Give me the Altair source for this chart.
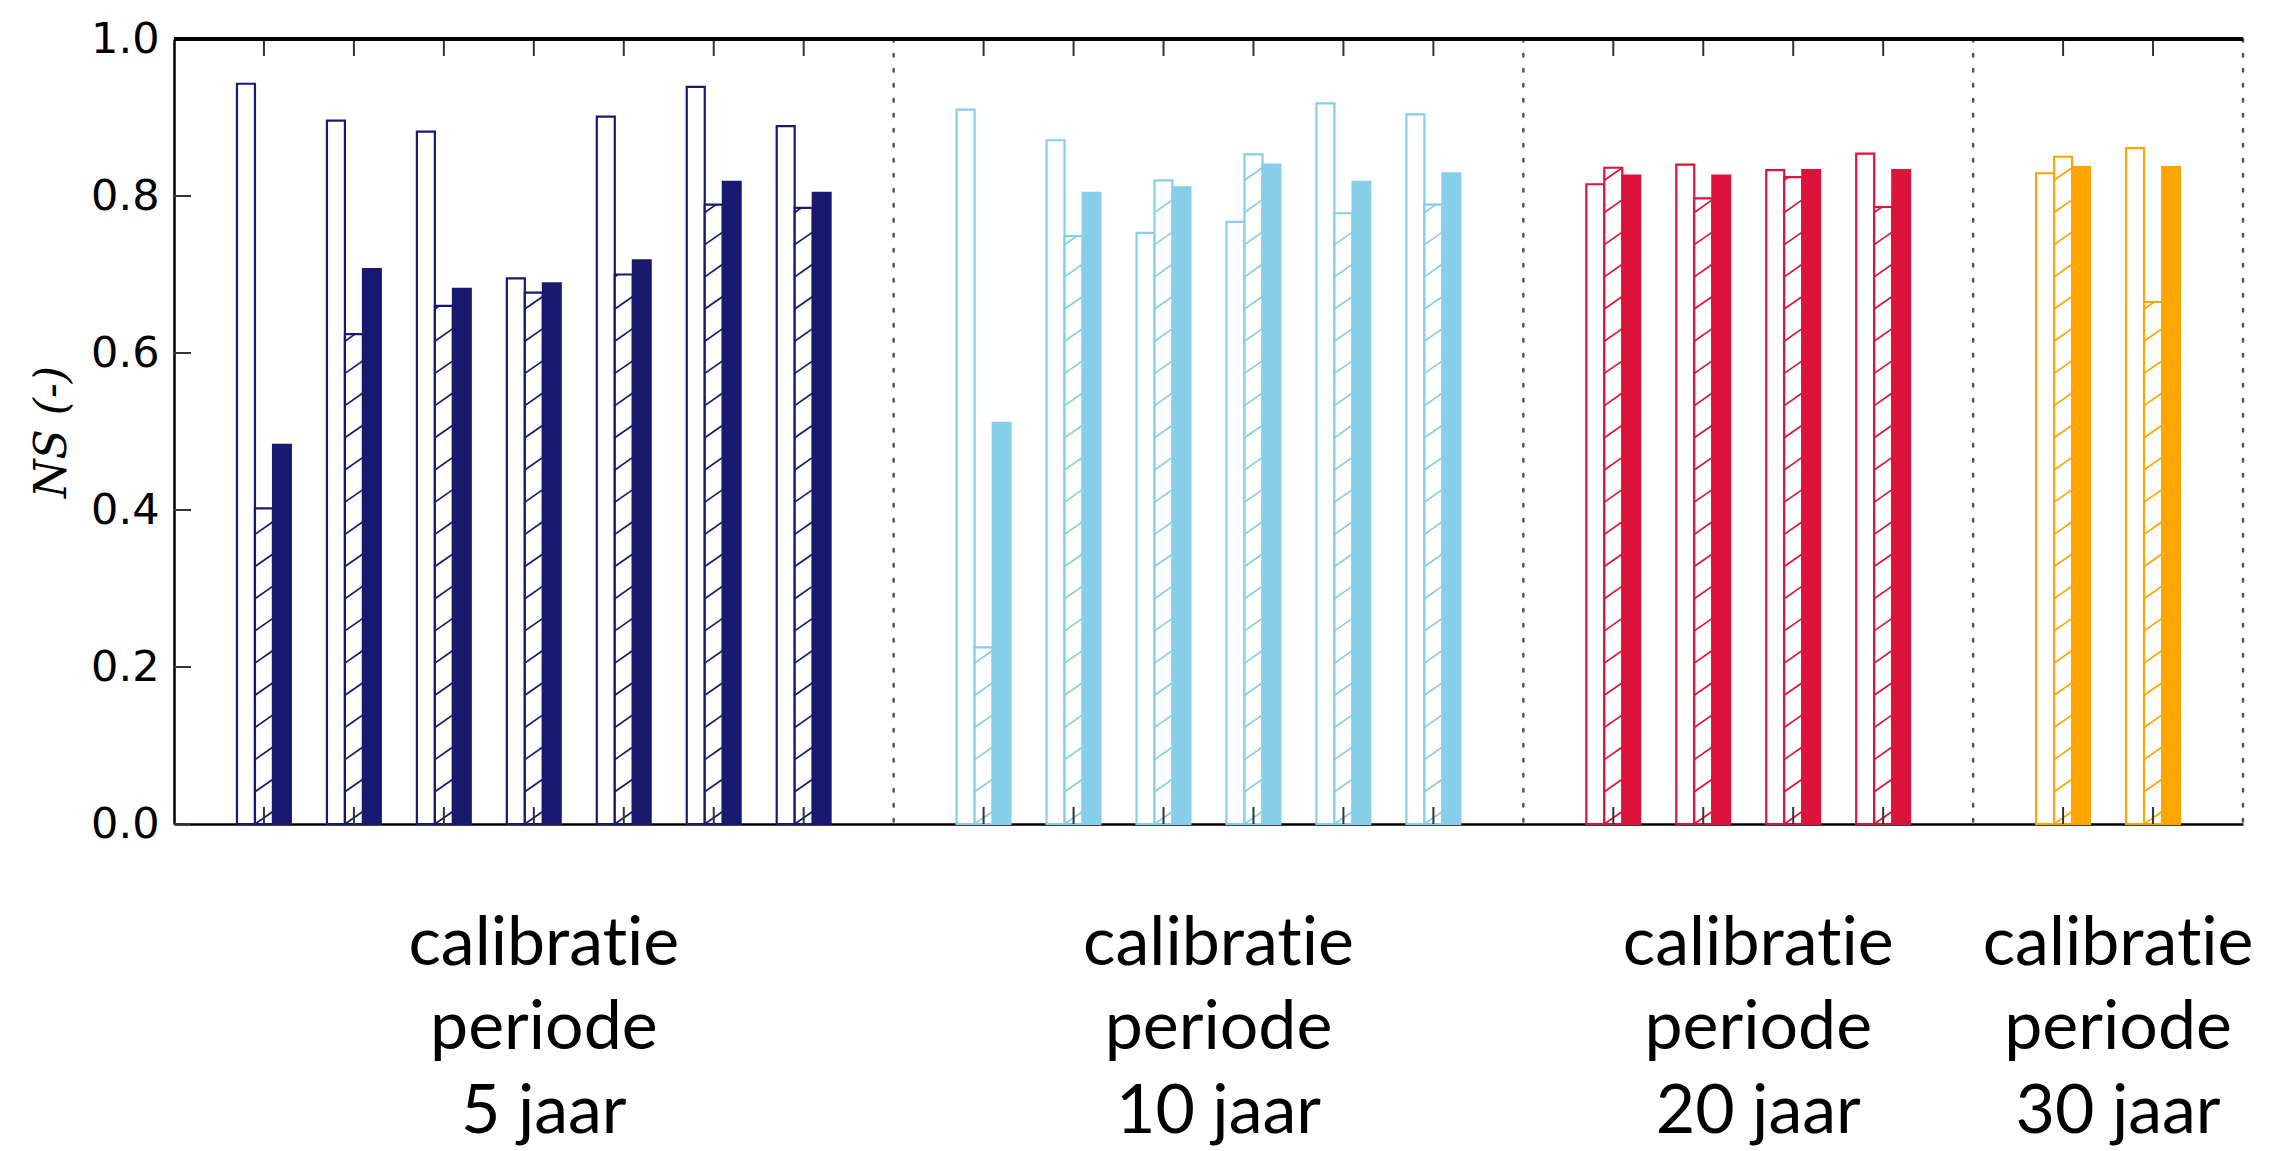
import altair as alt
import pandas as pd

# ---- data ----
groups = ["5 jaar", "10 jaar", "20 jaar", "30 jaar"]
colors = ["#191970", "#87CEEB", "#DC143C", "#FFA500"]

g5_open = [0.943, 0.896, 0.882, 0.695, 0.901, 0.939, 0.889]
g5_hatch = [0.402, 0.624, 0.660, 0.677, 0.700, 0.789, 0.785]
g5_fill = [0.483, 0.707, 0.682, 0.689, 0.718, 0.818, 0.804]

g10_open = [0.910, 0.871, 0.753, 0.767, 0.918, 0.904]
g10_hatch = [0.225, 0.749, 0.820, 0.853, 0.778, 0.789]
g10_fill = [0.511, 0.804, 0.811, 0.840, 0.818, 0.829]

g20_open = [0.815, 0.840, 0.833, 0.854]
g20_hatch = [0.836, 0.797, 0.824, 0.786]
g20_fill = [0.826, 0.826, 0.833, 0.833]

g30_open = [0.829, 0.861]
g30_hatch = [0.850, 0.665]
g30_fill = [0.837, 0.837]

yticks = [0.0, 0.2, 0.4, 0.6, 0.8, 1.0]

series = {
    "5 jaar": (g5_open, g5_hatch, g5_fill),
    "10 jaar": (g10_open, g10_hatch, g10_fill),
    "20 jaar": (g20_open, g20_hatch, g20_fill),
    "30 jaar": (g30_open, g30_hatch, g30_fill),
}

# ---- build tables ----
BW = 0.2          # bar width (x units)
HS = 0.041        # hatch spacing (y units)
HR = 0.016        # hatch rise across one bar (y units)

bars, hatch, ticks, seps, labels = [], [], [], [], []
start = 0
for g in groups:
    o, h, f = series[g]
    n = len(o)
    pos = list(range(start, start + n))
    for i, c in enumerate(pos):
        ticks.append({"pos": c})
        for kind, off, v in (("open", -1, o[i]), ("hatch", 0, h[i]), ("fill", 1, f[i])):
            xl = c + off * BW - BW / 2
            bars.append({"group": g, "kind": kind, "xl": xl, "xr": xl + BW, "value": v, "base": 0.0})
        # hatch lines inside the hatched bar
        xl = c - BW / 2
        k = 0
        while k * HS < h[i]:
            y1 = k * HS
            y2 = y1 + HR
            x2 = xl + BW
            if y2 > h[i]:
                x2 = xl + BW * (h[i] - y1) / HR
                y2 = h[i]
            hatch.append({"group": g, "hx1": xl, "hx2": x2, "hy1": y1, "hy2": y2})
            k += 1
    seps.append({"sep": start + n})
    # zero-width non-joiner keeps the font from forming a "ti" ligature
    labels.append({"group": g, "center": sum(pos) / n,
                   "text": "calibrat\u200cie\nperiode\n" + g})
    start += n + 1

bars = pd.DataFrame(bars)
hatch = pd.DataFrame(hatch)
ticks = pd.DataFrame(ticks)
seps = pd.DataFrame(seps)
labels = pd.DataFrame(labels)
ytick_df = pd.DataFrame({"t": yticks})

W, H = 2069, 785

xscale = alt.Scale(domain=[-1, start - 1], nice=False, zero=False)
yscale = alt.Scale(domain=[0, 1], nice=False)
cscale = alt.Scale(domain=groups, range=colors)

xaxis = alt.Axis(labels=False, ticks=False, grid=False, domain=True,
                 domainColor="black", domainWidth=2.5, title=None)
yaxis = alt.Axis(values=yticks, format=".1f", ticks=False, grid=False, domain=True,
                 domainColor="black", domainWidth=2.5,
                 labelFont="DejaVu Sans", labelFontSize=43, labelColor="black",
                 labelPadding=15, labelFlush=False, labelOverlap=False,
                 title="NS (-)", titleFont="DejaVu Serif", titleFontStyle="italic",
                 titleFontSize=44, titleFontWeight="normal", titleColor="black",
                 titlePadding=16)

X = lambda f: alt.X(f, scale=xscale, axis=xaxis)
Y = lambda f: alt.Y(f, scale=yscale, axis=yaxis)

sep_layer = alt.Chart(seps).mark_rule(
    color="#555555", strokeWidth=2.5, strokeDash=[2.5, 12.5], strokeCap="round"
).encode(x=X("sep:Q"))

open_layer = alt.Chart(bars).transform_filter(alt.datum.kind == "open").mark_bar(
    fill="white", strokeWidth=2.2
).encode(x=X("xl:Q"), x2="xr:Q", y=Y("value:Q"), y2="base:Q",
         stroke=alt.Stroke("group:N", scale=cscale, legend=None))

hatch_bar_layer = alt.Chart(bars).transform_filter(alt.datum.kind == "hatch").mark_bar(
    fill="white", strokeWidth=2.2
).encode(x=X("xl:Q"), x2="xr:Q", y=Y("value:Q"), y2="base:Q",
         stroke=alt.Stroke("group:N", scale=cscale, legend=None))

hatch_line_layer = alt.Chart(hatch).mark_rule(strokeWidth=1.7).encode(
    x=X("hx1:Q"), x2="hx2:Q", y=Y("hy1:Q"), y2="hy2:Q",
    stroke=alt.Stroke("group:N", scale=cscale, legend=None))

fill_layer = alt.Chart(bars).transform_filter(alt.datum.kind == "fill").mark_bar(
    strokeWidth=2
).encode(x=X("xl:Q"), x2="xr:Q", y=Y("value:Q"), y2="base:Q",
         fill=alt.Fill("group:N", scale=cscale, legend=None),
         stroke=alt.Stroke("group:N", scale=cscale, legend=None))

bottom_ticks = alt.Chart(ticks).mark_rule(color="#333333", strokeWidth=2).encode(
    x=X("pos:Q"), y=alt.value(H), y2=alt.value(H - 17))
top_ticks = alt.Chart(ticks).mark_rule(color="#333333", strokeWidth=2).encode(
    x=X("pos:Q"), y=alt.value(0), y2=alt.value(17))
y_ticks = alt.Chart(ytick_df).mark_rule(color="#333333", strokeWidth=2).encode(
    y=Y("t:Q"), x=alt.value(0), x2=alt.value(17))
top_spine = alt.Chart(ticks).mark_rule(color="black", strokeWidth=2.5).encode(
    x=alt.value(0), x2=alt.value(W), y=alt.value(0))

text_layer = alt.Chart(labels).mark_text(
    font="Lato", fontSize=68, lineBreak="\n", lineHeight=84,
    align="center", baseline="alphabetic", color="black", dx=10
).encode(x=X("center:Q"), y=alt.value(926), text="text:N")

chart = alt.layer(
    sep_layer, open_layer, hatch_bar_layer, hatch_line_layer, fill_layer,
    bottom_ticks, top_ticks, y_ticks, top_spine, text_layer
).properties(
    width=W, height=H,
    autosize=alt.AutoSizeParams(type="none"),
    padding={"left": 174, "top": 39, "right": 34, "bottom": 327},
    background="white",
).configure_view(stroke=None)

chart.save("out.html", embed_options={"renderer": "svg", "actions": False})
